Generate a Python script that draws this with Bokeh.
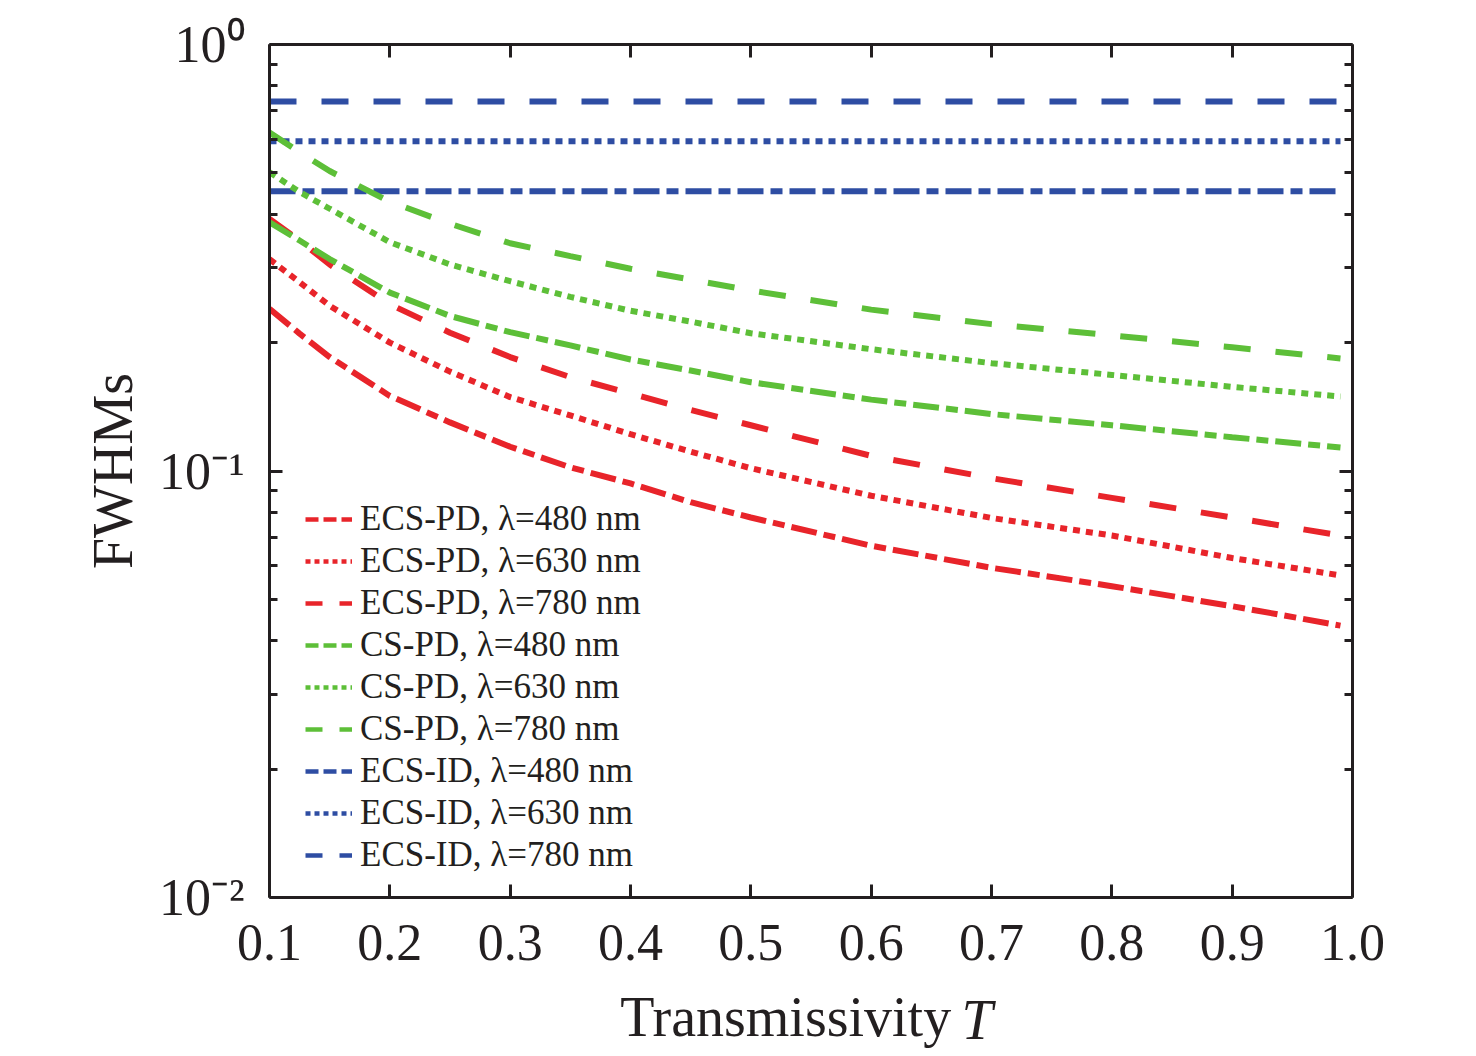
from bokeh.plotting import figure
from bokeh.models import (FixedTicker, LinearAxis, LogAxis, Legend, LegendItem,
                          CustomJSTickFormatter, PrintfTickFormatter, Range1d)
from bokeh.embed import file_html
from bokeh.resources import INLINE

# ---------------- data ----------------
T = [0.1, 0.125, 0.15, 0.2, 0.25, 0.3, 0.35, 0.4, 0.45, 0.5, 0.6, 0.7, 0.8, 0.9, 0.99]

ecs_pd_480 = [0.240, 0.210, 0.185, 0.150, 0.130, 0.114, 0.102, 0.0935, 0.0845, 0.0778,
              0.0668, 0.0593, 0.0537, 0.0482, 0.0434]
ecs_pd_630 = [0.314, 0.277, 0.244, 0.200, 0.171, 0.149, 0.135, 0.122, 0.111, 0.1015,
              0.0875, 0.0776, 0.0706, 0.0625, 0.0569]
ecs_pd_780 = [0.390, 0.347, 0.305, 0.246, 0.211, 0.185, 0.166, 0.152, 0.139, 0.128,
              0.1085, 0.0962, 0.0865, 0.0778, 0.0706]

cs_pd_480 = [0.383, 0.347, 0.314, 0.262, 0.231, 0.2116, 0.197, 0.1826, 0.172, 0.1615,
             0.147, 0.136, 0.128, 0.120, 0.1135]
cs_pd_630 = [0.502, 0.451, 0.412, 0.344, 0.305, 0.2786, 0.256, 0.2375, 0.224, 0.2104,
             0.193, 0.179, 0.168, 0.1575, 0.1495]
cs_pd_780 = [0.622, 0.559, 0.505, 0.428, 0.380, 0.342, 0.319, 0.298, 0.281, 0.265,
             0.239, 0.221, 0.208, 0.195, 0.1836]

ecs_id_480 = [0.453] * len(T)
ecs_id_630 = [0.593] * len(T)
ecs_id_780 = [0.735] * len(T)

x_ticks = [0.1, 0.2, 0.3, 0.4, 0.5, 0.6, 0.7, 0.8, 0.9, 1.0]
y_major = [0.01, 0.1, 1.0]
y_minor = [0.02, 0.03, 0.04, 0.05, 0.06, 0.07, 0.08, 0.09,
           0.2, 0.3, 0.4, 0.5, 0.6, 0.7, 0.8, 0.9]

labels = ["ECS-PD, \u03bb=480 nm", "ECS-PD, \u03bb=630 nm", "ECS-PD, \u03bb=780 nm",
          "CS-PD, \u03bb=480 nm", "CS-PD, \u03bb=630 nm", "CS-PD, \u03bb=780 nm",
          "ECS-ID, \u03bb=480 nm", "ECS-ID, \u03bb=630 nm", "ECS-ID, \u03bb=780 nm"]

x_title_word = "Transmissivity"
x_title_symbol = "T"
y_title = "FWHMs"

# ---------------- style ----------------
FONT = "Liberation Serif"
RED = "#e8242a"
GREEN = "#5dbf38"
BLUE = "#2e4da3"
AX = "#231f20"
LW = 6
DASH = {"480": "26 7 12 7", "630": "7 6", "780": "27 25"}
LEG_DASH = {"480": "13 5", "630": "5 4", "780": "17 17"}
WORD_AT = 0.529     # x position (data) of the centre of the x-title word
SYMBOL_AT = 0.688   # x position (data) of the centre of the italic symbol

p = figure(frame_width=1083, frame_height=853,
           x_range=Range1d(0.1, 1.0), y_range=Range1d(0.01, 1.0),
           y_axis_type="log", output_backend="svg", toolbar_location=None,
           min_border_left=269, min_border_top=44, min_border_right=100,
           min_border_bottom=156)
p.outline_line_color = None
p.grid.visible = False
p.background_fill_color = "white"
p.border_fill_color = "white"


def style_axis(ax):
    ax.axis_line_width = 3
    ax.axis_line_color = AX
    ax.major_tick_line_width = 3
    ax.major_tick_line_color = AX
    ax.major_tick_in = 13
    ax.major_tick_out = 0
    ax.minor_tick_line_width = 3
    ax.minor_tick_line_color = AX
    ax.minor_tick_in = 8
    ax.minor_tick_out = 0
    ax.major_label_text_font = FONT
    ax.major_label_text_color = AX


xa = p.xaxis[0]
xa.ticker = FixedTicker(ticks=x_ticks, minor_ticks=[])
xa.formatter = PrintfTickFormatter(format="%.1f")
style_axis(xa)
xa.major_label_text_font_size = "52px"
xa.major_label_standoff = 27

ya = p.yaxis[0]
ya.ticker = FixedTicker(ticks=y_major, minor_ticks=y_minor)
ya.formatter = CustomJSTickFormatter(code="""
    const e = Math.round(Math.log10(tick));
    const sup = {'0':'\u2070','1':'\u00b9','2':'\u00b2','3':'\u00b3','-':'\u207b'};
    return '10' + String(e).split('').map(c => sup[c]).join('');
""")
style_axis(ya)
ya.major_label_text_font_size = "52px"
ya.major_label_standoff = 25
ya.axis_label = y_title
ya.axis_label_text_font = FONT
ya.axis_label_text_font_size = "56px"
ya.axis_label_text_font_style = "normal"
ya.axis_label_standoff = 12
ya.axis_label_text_color = AX

blank = CustomJSTickFormatter(code="return '';")

top = LinearAxis(ticker=FixedTicker(ticks=x_ticks, minor_ticks=[]), formatter=blank)
style_axis(top)
top.major_label_standoff = 0
p.add_layout(top, "above")

right = LogAxis(ticker=FixedTicker(ticks=y_major, minor_ticks=y_minor), formatter=blank)
style_axis(right)
right.major_label_standoff = 0
p.add_layout(right, "right")


# x-axis title: the word (upright) and the symbol (italic), as tick-less axes
def title_axis(text, at, style, standoff):
    ax = LinearAxis(ticker=FixedTicker(ticks=[at], minor_ticks=[]),
                    formatter=CustomJSTickFormatter(args=dict(t=text), code="return t;"))
    ax.axis_line_color = None
    ax.major_tick_line_color = None
    ax.minor_tick_line_color = None
    ax.major_tick_in = 0
    ax.major_tick_out = 0
    ax.minor_tick_in = 0
    ax.minor_tick_out = 0
    ax.major_label_text_font = FONT
    ax.major_label_text_font_size = "56px"
    ax.major_label_text_font_style = style
    ax.major_label_text_color = AX
    ax.major_label_standoff = standoff
    return ax


word_axis = title_axis(x_title_word, WORD_AT, "normal", 23)
p.add_layout(word_axis, "below")
sym_axis = title_axis(x_title_symbol, SYMBOL_AT, "italic", -62)
p.add_layout(sym_axis, "below")

# ---------------- lines ----------------
series = [
    (ecs_id_480, BLUE, "480"), (ecs_id_630, BLUE, "630"), (ecs_id_780, BLUE, "780"),
    (ecs_pd_480, RED, "480"), (ecs_pd_630, RED, "630"), (ecs_pd_780, RED, "780"),
    (cs_pd_480, GREEN, "480"), (cs_pd_630, GREEN, "630"), (cs_pd_780, GREEN, "780"),
]
for ys, col, wl in series:
    p.line(T, ys, line_color=col, line_width=LW, line_dash=DASH[wl], line_cap="butt")

# legend glyphs: single-point lines (draw nothing in the plot, only the legend sample)
leg_series = [(ecs_pd_480, RED, "480"), (ecs_pd_630, RED, "630"), (ecs_pd_780, RED, "780"),
              (cs_pd_480, GREEN, "480"), (cs_pd_630, GREEN, "630"), (cs_pd_780, GREEN, "780"),
              (ecs_id_480, BLUE, "480"), (ecs_id_630, BLUE, "630"), (ecs_id_780, BLUE, "780")]
items = []
for (ys, col, wl), lab in zip(leg_series, labels):
    r = p.line(x=T[:1], y=ys[:1], line_color=col, line_width=4.5, line_dash=LEG_DASH[wl])
    items.append(LegendItem(label=lab, renderers=[r]))

legend = Legend(items=items, location=(36, 21),
                label_text_font=FONT, label_text_font_size="35px",
                label_text_color=AX,
                glyph_width=47, glyph_height=42, label_height=42,
                label_standoff=8, spacing=0, padding=10, margin=0,
                border_line_color=None, background_fill_alpha=0)
p.add_layout(legend)

open("out.html", "w").write(file_html(p, INLINE))
